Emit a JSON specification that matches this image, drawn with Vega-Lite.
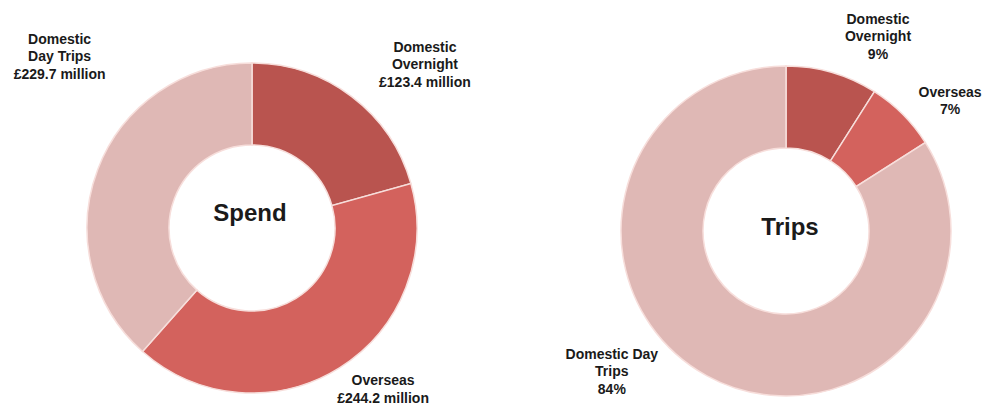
{
  "$schema": "https://vega.github.io/schema/vega-lite/v6.json",
  "padding": 0,
  "background": "white",
  "spacing": 82,
  "bounds": "flush",
  "config": {
    "view": {"stroke": null},
    "text": {"font": "Liberation Sans", "fontWeight": "bold", "fontSize": 14, "lineHeight": 17.5, "lineBreak": "\n", "color": "#1a1a1a", "align": "center", "baseline": "middle"}
  },
  "datasets": {
    "spend": [
      {"segment": "Domestic Overnight", "i": 1, "value": 123.4, "label": "Domestic\nOvernight\n£123.4 million"},
      {"segment": "Overseas", "i": 2, "value": 244.2, "label": "Overseas\n£244.2 million"},
      {"segment": "Domestic Day Trips", "i": 3, "value": 229.7, "label": "Domestic\nDay Trips\n£229.7 million"}
    ],
    "trips": [
      {"segment": "Domestic Overnight", "i": 1, "value": 9, "label": "Domestic\nOvernight\n9%"},
      {"segment": "Overseas", "i": 2, "value": 7, "label": "Overseas\n7%"},
      {"segment": "Domestic Day Trips", "i": 3, "value": 84, "label": "Domestic Day\nTrips\n84%"}
    ]
  },
  "hconcat": [
    {
      "width": 504,
      "height": 407,
      "data": {"name": "spend"},
      "layer": [
        {
          "mark": {"type": "arc", "innerRadius": 83, "outerRadius": 165, "stroke": "#f7dedb", "strokeWidth": 1.5, "yOffset": 24.5},
          "encoding": {
            "theta": {"field": "value", "type": "quantitative", "stack": true},
            "order": {"field": "i", "type": "quantitative"},
            "color": {"field": "segment", "type": "nominal", "legend": null,
              "scale": {"domain": ["Domestic Overnight", "Overseas", "Domestic Day Trips"], "range": ["#b9544f", "#d3625d", "#dfb8b5"]}}
          }
        },
        {
          "mark": {"type": "text", "radius": 215, "yOffset": 24.5, "dx": 43, "dy": -9},
          "encoding": {
            "theta": {"field": "value", "type": "quantitative", "stack": true},
            "order": {"field": "i", "type": "quantitative"},
            "detail": {"field": "segment"},
            "text": {"condition": {"test": "datum.segment === 'Domestic Overnight'", "field": "label"}, "value": ""}
          }
        },
        {
          "mark": {"type": "text", "radius": 215, "yOffset": 24.5, "dx": 17, "dy": -29},
          "encoding": {
            "theta": {"field": "value", "type": "quantitative", "stack": true},
            "order": {"field": "i", "type": "quantitative"},
            "detail": {"field": "segment"},
            "text": {"condition": {"test": "datum.segment === 'Overseas'", "field": "label"}, "value": ""}
          }
        },
        {
          "mark": {"type": "text", "radius": 40, "yOffset": 24.5, "dx": -155, "dy": -174},
          "encoding": {
            "theta": {"field": "value", "type": "quantitative", "stack": true},
            "order": {"field": "i", "type": "quantitative"},
            "detail": {"field": "segment"},
            "text": {"condition": {"test": "datum.segment === 'Domestic Day Trips'", "field": "label"}, "value": ""}
          }
        },
        {
          "data": {"values": [{"title": "Spend"}]},
          "mark": {"type": "text", "fontSize": 24, "dx": -2, "dy": 10.5},
          "encoding": {"text": {"field": "title"}}
        }
      ]
    },
    {
      "width": 400,
      "height": 407,
      "data": {"name": "trips"},
      "layer": [
        {
          "mark": {"type": "arc", "innerRadius": 83, "outerRadius": 165, "stroke": "#f7dedb", "strokeWidth": 1.5, "yOffset": 27.5},
          "encoding": {
            "theta": {"field": "value", "type": "quantitative", "stack": true},
            "order": {"field": "i", "type": "quantitative"},
            "color": {"field": "segment", "type": "nominal", "legend": null,
              "scale": {"domain": ["Domestic Overnight", "Overseas", "Domestic Day Trips"], "range": ["#b9544f", "#d3625d", "#dfb8b5"]}}
          }
        },
        {
          "mark": {"type": "text", "radius": 215, "yOffset": 27.5, "dx": 32, "dy": -5},
          "encoding": {
            "theta": {"field": "value", "type": "quantitative", "stack": true},
            "order": {"field": "i", "type": "quantitative"},
            "detail": {"field": "segment"},
            "text": {"condition": {"test": "datum.segment === 'Domestic Overnight'", "field": "label"}, "value": ""}
          }
        },
        {
          "mark": {"type": "text", "radius": 215, "yOffset": 27.5, "dx": 12, "dy": 14},
          "encoding": {
            "theta": {"field": "value", "type": "quantitative", "stack": true},
            "order": {"field": "i", "type": "quantitative"},
            "detail": {"field": "segment"},
            "text": {"condition": {"test": "datum.segment === 'Overseas'", "field": "label"}, "value": ""}
          }
        },
        {
          "mark": {"type": "text", "radius": 100, "yOffset": 27.5, "dx": -126, "dy": 36},
          "encoding": {
            "theta": {"field": "value", "type": "quantitative", "stack": true},
            "order": {"field": "i", "type": "quantitative"},
            "detail": {"field": "segment"},
            "text": {"condition": {"test": "datum.segment === 'Domestic Day Trips'", "field": "label"}, "value": ""}
          }
        },
        {
          "data": {"values": [{"title": "Trips"}]},
          "mark": {"type": "text", "fontSize": 24, "dx": 4, "dy": 24.5},
          "encoding": {"text": {"field": "title"}}
        }
      ]
    }
  ]
}
